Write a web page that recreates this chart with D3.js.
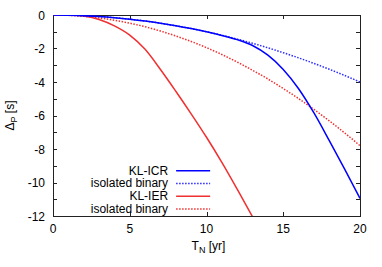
<!DOCTYPE html>
<html lang="en">
<head>
<meta charset="UTF-8">
<title>Delta P vs T_N</title>
<script src="https://cdn.jsdelivr.net/npm/d3@7"></script>
<style>
  body { margin: 0; background: #fff; }
  text { font-family: "Liberation Sans", Arial, sans-serif; font-size: 12px; fill: #000; }
</style>
</head>
<body>
<svg id="svg" width="382" height="267"></svg>
<script>
// data
const years = [0,1,2,3,4,5,6,7,8,9,10,11,12,13,14,15,16,17,18,19,20]
const icrIsolated = [0,-0.01,-0.04,-0.09,-0.16,-0.25,-0.36,-0.49,-0.64,-0.81,-1.0,-1.21,-1.44,-1.69,-1.96,-2.25,-2.56,-2.89,-3.24,-3.61,-4.0]
const ierIsolated = [0,-0.02,-0.08,-0.18,-0.31,-0.49,-0.70,-0.96,-1.25,-1.58,-1.95,-2.36,-2.81,-3.30,-3.82,-4.39,-4.99,-5.64,-6.32,-7.04,-7.80]
const icrKL = [0,-0.01,-0.04,-0.09,-0.16,-0.25,-0.36,-0.49,-0.64,-0.81,-1.0,-1.22,-1.47,-1.82,-2.4,-3.25,-4.4,-5.85,-7.5,-9.2,-10.95]
const ierYears = [0,1,2,3,4,5,6,7,8,9,10,11,12,13]
const ierKL = [0,-0.005,-0.06,-0.27,-0.65,-1.2,-2.05,-3.25,-4.55,-5.9,-7.3,-8.8,-10.4,-12.05]

const xTicks = [0,5,10,15,20]
const yTicks = [0,-2,-4,-6,-8,-10,-12]
const yMinor = [-1,-3,-5,-7,-9,-11]

const series = [
  { label: "KL-ICR", xs: years, ys: icrKL, color: "#0000ff", dash: null },
  { label: "isolated binary", xs: years, ys: icrIsolated, color: "#2b2bff", dash: "1.5,1.5" },
  { label: "KL-IER", xs: ierYears, ys: ierKL, color: "#f03030", dash: null },
  { label: "isolated binary", xs: years, ys: ierIsolated, color: "#f03030", dash: "1.5,1.5" }
]

const margin = { top: 15, right: 22, bottom: 51, left: 53 }
const width = 382 - margin.left - margin.right
const height = 267 - margin.top - margin.bottom

const svg = d3.select("#svg")
const g = svg.append("g").attr("transform", `translate(${margin.left},${margin.top})`)

const x = d3.scaleLinear().domain([0, 20]).range([0, width])
const y = d3.scaleLinear().domain([-12, 0]).range([height, 0])

svg.append("clipPath").attr("id", "clip")
  .append("rect").attr("width", width).attr("height", height)

// frame
g.append("rect")
  .attr("x", 0.5).attr("y", 0.5)
  .attr("width", width).attr("height", height)
  .attr("fill", "none").attr("stroke", "#222").attr("stroke-width", 1)

const tickLen = 4
// x ticks (bottom + top)
xTicks.forEach(t => {
  const px = Math.round(x(t)) + 0.5
  g.append("line").attr("x1", px).attr("x2", px).attr("y1", height).attr("y2", height - tickLen).attr("stroke", "#222")
  g.append("line").attr("x1", px).attr("x2", px).attr("y1", 0).attr("y2", tickLen).attr("stroke", "#222")
  g.append("text").attr("x", x(t)).attr("y", height + 17).attr("text-anchor", "middle").text(t)
})
// y ticks (left + right)
yTicks.concat(yMinor).forEach(t => {
  const py = Math.round(y(t)) + 0.5
  g.append("line").attr("x1", 0).attr("x2", tickLen).attr("y1", py).attr("y2", py).attr("stroke", "#222")
  g.append("line").attr("x1", width).attr("x2", width - tickLen).attr("y1", py).attr("y2", py).attr("stroke", "#222")
})
yTicks.forEach(t => {
  g.append("text").attr("x", -8).attr("y", y(t) + 4.5).attr("text-anchor", "end").text(t)
})

// axis labels
const xl = g.append("text").attr("x", x(10) + 2).attr("y", height + 34).attr("text-anchor", "middle")
xl.append("tspan").text("T")
xl.append("tspan").attr("font-size", "9px").attr("dy", 3).text("N")
xl.append("tspan").attr("dy", -3).text(" [yr]")

const yl = svg.append("text").attr("transform", `translate(14,${margin.top + y(-6)}) rotate(-90)`).attr("text-anchor", "middle")
yl.append("tspan").text("Δ")
yl.append("tspan").attr("font-size", "9px").attr("dy", 3).text("P")
yl.append("tspan").attr("dy", -3).text(" [s]")

// curves
const line = d3.line().x(d => x(d[0])).y(d => y(d[1])).curve(d3.curveMonotoneX)
const curves = g.append("g").attr("clip-path", "url(#clip)")
series.slice().reverse().forEach(s => {
  curves.append("path")
    .datum(s.xs.map((t, i) => [t, s.ys[i]]))
    .attr("d", line)
    .attr("fill", "none")
    .attr("stroke", s.color)
    .attr("stroke-width", 1.5)
    .attr("stroke-dasharray", s.dash)
})

// legend
const rowGap = 12.7
const legend = g.append("g").attr("transform", `translate(${x(7.5)},${y(-9.3)})`)
series.forEach((s, i) => {
  const row = legend.append("g").attr("transform", `translate(0,${i * rowGap})`)
  row.append("text").attr("x", 0).attr("y", 4).attr("font-size", "11px").attr("text-anchor", "end").text(s.label)
  row.append("line").attr("x1", 8).attr("x2", 42).attr("y1", 0).attr("y2", 0)
    .attr("stroke", s.color).attr("stroke-width", 1.5).attr("stroke-dasharray", s.dash)
})
</script>
</body>
</html>
